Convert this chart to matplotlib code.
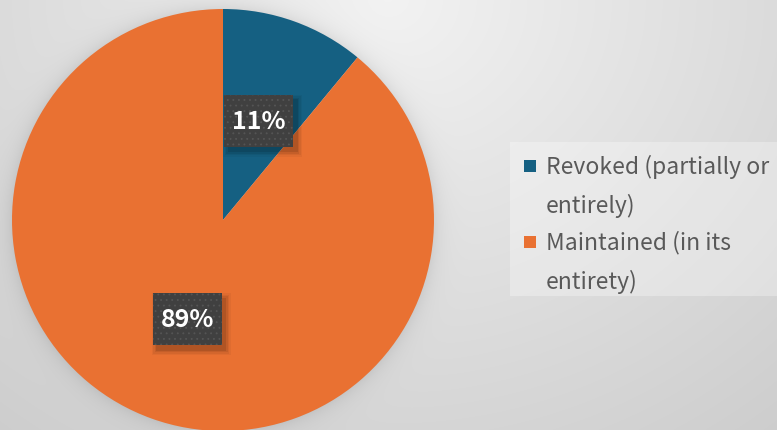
import numpy as np
import matplotlib
matplotlib.use("Agg")
import matplotlib.pyplot as plt
from matplotlib.patches import Rectangle

# Data
labels = ["Revoked (partially or\nentirely)", "Maintained (in its\nentirety)"]
shares = [11, 89]
colors = ["#156082", "#E97132"]

plt.rcParams["font.family"] = ["Noto Sans CJK JP", "DejaVu Sans"]
plt.rcParams["hatch.linewidth"] = 0.6

W, H = 777, 431
fig = plt.figure(figsize=(W / 100, H / 100), dpi=100)
ax = fig.add_axes([0, 0, 1, 1])

# pie geometry in pixel units
cx, cy, R = 223, 210, 211

# soft grey backdrop with a halo shadow round the pie
yy, xx = np.mgrid[0:H, 0:W] + 0.5
rr = np.hypot((xx - 388) / 388, yy / 345)
bg = 0.95 - 0.09 * rr
dist = np.hypot(xx - cx, (H - yy) - cy)
bg -= np.where(dist > R, 0.07 * np.exp(-(dist - R) / 9), 0.07)
ax.imshow(np.dstack([bg] * 3).clip(0, 1), extent=(0, W, 0, H), origin="upper",
          zorder=0, interpolation="bilinear")

wedges, _ = ax.pie(shares, colors=colors, startangle=90, counterclock=False,
                   center=(cx, cy), radius=R, wedgeprops=dict(linewidth=0))
for w in wedges:
    w.set_zorder(2)

# data labels: dark dotted boxes with a soft drop shadow
bw, bh = 69, 52
for w, v in zip(wedges, shares):
    ang = np.deg2rad((w.theta1 + w.theta2) / 2)
    lx = cx + 0.5 * R * np.cos(ang)
    ly = cy + 0.5 * R * np.sin(ang)
    for s, a in [(10, 0.04), (7, 0.05), (4, 0.07), (1, 0.1)]:
        ax.add_patch(Rectangle((lx - bw / 2 + 4 - s / 2, ly - bh / 2 - 5 - s / 2),
                               bw + s, bh + s, facecolor="black", alpha=a,
                               linewidth=0, zorder=3))
    ax.add_patch(Rectangle((lx - bw / 2, ly - bh / 2), bw, bh, facecolor="#404040",
                           edgecolor="#555555", hatch="...", linewidth=0, zorder=4))
    ax.text(lx, ly, f"{v}%", ha="center", va="center", color="white",
            fontsize=18, fontweight="bold", zorder=5)

# legend panel
ax.add_patch(Rectangle((510, H - 297), 280, 154, facecolor="white", alpha=0.3,
                       linewidth=0, zorder=1))
entry_y = [H - 167, H - 243]
line_step = 39
for lab, col, ey in zip(labels, colors, entry_y):
    ax.add_patch(Rectangle((524, ey - 6), 12, 12, facecolor=col, linewidth=0, zorder=2))
    for k, line in enumerate(lab.split("\n")):
        ax.text(546, ey - k * line_step, line, ha="left", va="center",
                color="#595959", fontsize=16.5, zorder=2)

ax.set_xlim(0, W)
ax.set_ylim(0, H)
ax.set_aspect("auto")
ax.axis("off")

fig.savefig("out.png", dpi=100)
